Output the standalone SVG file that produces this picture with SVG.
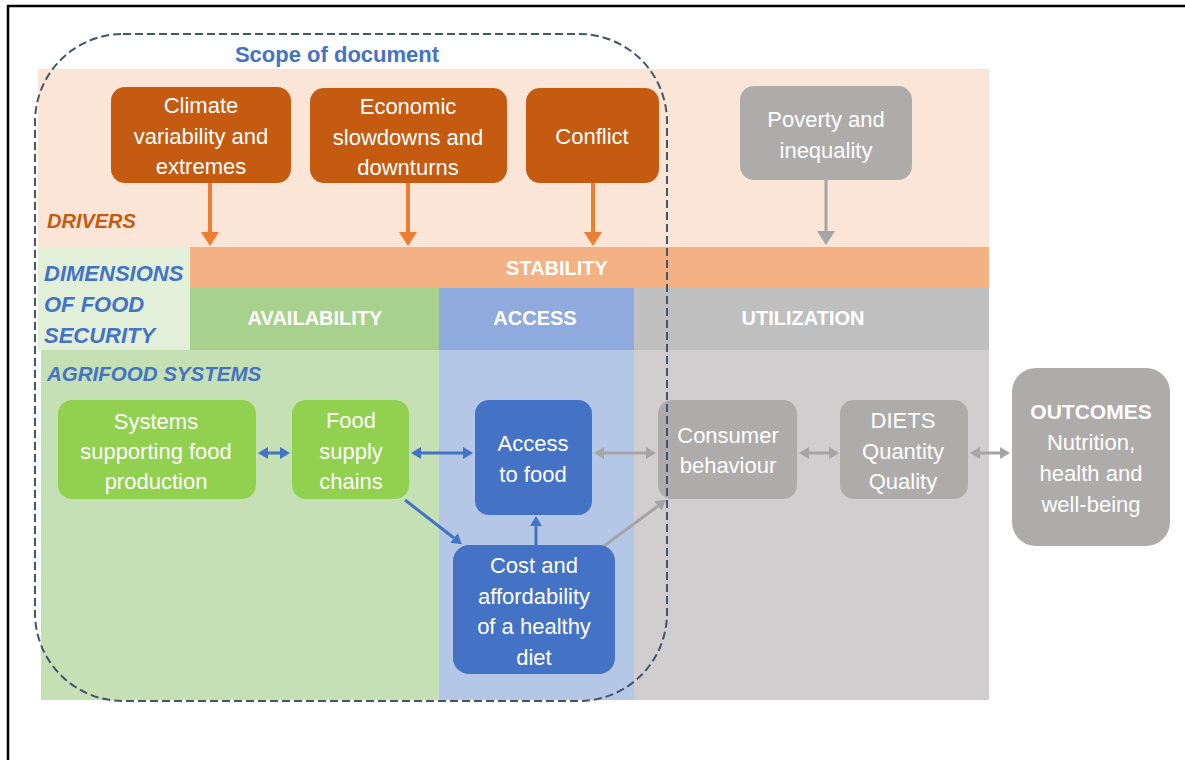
<svg xmlns="http://www.w3.org/2000/svg" width="1185" height="760" viewBox="0 0 1185 760">
<style>
.nt{font-family:"Liberation Sans",Arial,sans-serif;font-size:22px;fill:#fff;text-anchor:middle}
.hd{font-family:"Liberation Sans",Arial,sans-serif;font-size:20px;font-weight:bold;fill:#fff;text-anchor:middle}
.lb{font-family:"Liberation Sans",Arial,sans-serif;font-size:21px;font-weight:bold;font-style:italic;fill:#4472C4}
.or{fill:#C55A11}
.gr{fill:#AEABAB}
.gn{fill:#92D050}
.bl{fill:#4472C4}
.ao{stroke:#ED7D31;stroke-width:4;fill:none}
.ab{stroke:#4472C4;stroke-width:3;fill:none}
.ag{stroke:#A5A5A5;stroke-width:3;fill:none}
</style>
<defs>
<marker id="mo" markerUnits="userSpaceOnUse" markerWidth="14" markerHeight="18" refX="0" refY="9" orient="auto"><path d="M0,0 L14,9 L0,18 z" fill="#ED7D31"/></marker>
<marker id="mg" markerUnits="userSpaceOnUse" markerWidth="14" markerHeight="18" refX="0" refY="9" orient="auto"><path d="M0,0 L14,9 L0,18 z" fill="#A5A5A5"/></marker>
<marker id="mb" markerUnits="userSpaceOnUse" markerWidth="10" markerHeight="12" refX="0" refY="6" orient="auto-start-reverse"><path d="M0,0 L10,6 L0,12 z" fill="#4472C4"/></marker>
<marker id="ms" markerUnits="userSpaceOnUse" markerWidth="10" markerHeight="12" refX="0" refY="6" orient="auto-start-reverse"><path d="M0,0 L10,6 L0,12 z" fill="#A5A5A5"/></marker>
</defs>
<rect width="1185" height="760" fill="#fff"/>
<line x1="7" y1="6" x2="1185" y2="6" stroke="#000" stroke-width="2.5"/>
<line x1="8" y1="5" x2="8" y2="760" stroke="#000" stroke-width="2.5"/>

<g id="bands">
<rect x="38" y="69" width="951" height="178" fill="#FBE5D6"/>
<rect x="190" y="247" width="799" height="41" fill="#F4B183"/>
<rect x="38" y="247" width="152" height="103" fill="#E2F0D9"/>
<rect x="190" y="288" width="249" height="62" fill="#A9D18E"/>
<rect x="439" y="288" width="195" height="62" fill="#8FAADC"/>
<rect x="634" y="288" width="355" height="62" fill="#BFBFBF"/>
<rect x="41" y="350" width="398" height="350" fill="#C5E0B4"/>
<rect x="439" y="350" width="195" height="350" fill="#B4C7E7"/>
<rect x="634" y="350" width="355" height="350" fill="#D0CECE"/>
<text class="hd" x="557" y="275">STABILITY</text>
<text class="hd" x="315" y="325">AVAILABILITY</text>
<text class="hd" x="535" y="325">ACCESS</text>
<text class="hd" x="803" y="325">UTILIZATION</text>
<text class="lb" x="47" y="228" style="fill:#C55A11;font-size:20px">DRIVERS</text>
<text class="lb" x="44" y="281" style="font-size:22px">DIMENSIONS</text>
<text class="lb" x="44" y="312" style="font-size:22px">OF FOOD</text>
<text class="lb" x="44" y="343" style="font-size:22px">SECURITY</text>
<text class="lb" x="47" y="381" style="font-size:20.5px">AGRIFOOD SYSTEMS</text>
</g>

<g id="connectors">
<line class="ao" x1="210" y1="183" x2="210" y2="232" marker-end="url(#mo)"/>
<line class="ao" x1="408" y1="183" x2="408" y2="232" marker-end="url(#mo)"/>
<line class="ao" x1="593" y1="183" x2="593" y2="232" marker-end="url(#mo)"/>
<line class="ag" x1="826" y1="180" x2="826" y2="231" stroke-width="4" marker-end="url(#mg)"/>
<line class="ab" x1="268" y1="453" x2="280" y2="453" marker-start="url(#mb)" marker-end="url(#mb)"/>
<line class="ab" x1="421" y1="453" x2="463" y2="453" marker-start="url(#mb)" marker-end="url(#mb)"/>
<line class="ab" x1="405" y1="500" x2="454" y2="538" marker-end="url(#mb)"/>
<line class="ab" x1="536" y1="545" x2="536" y2="526" marker-end="url(#mb)"/>
<line class="ag" x1="604" y1="453" x2="646" y2="453" marker-start="url(#ms)" marker-end="url(#ms)"/>
<line class="ag" x1="809" y1="453" x2="829" y2="453" marker-start="url(#ms)" marker-end="url(#ms)"/>
<line class="ag" x1="980" y1="453" x2="1000" y2="453" marker-start="url(#ms)" marker-end="url(#ms)"/>
<line class="ag" x1="604" y1="546" x2="658" y2="506" marker-end="url(#ms)"/>
</g>

<g id="climate">
<rect class="or" x="111" y="87" width="180" height="96" rx="14"/>
<text class="nt" x="201" y="113">Climate</text>
<text class="nt" x="201" y="144">variability and</text>
<text class="nt" x="201" y="174">extremes</text>
</g>
<g id="economic">
<rect class="or" x="310" y="88" width="197" height="95" rx="14"/>
<text class="nt" x="408" y="114">Economic</text>
<text class="nt" x="408" y="145">slowdowns and</text>
<text class="nt" x="408" y="175">downturns</text>
</g>
<g id="conflict">
<rect class="or" x="526" y="88" width="133" height="95" rx="14"/>
<text class="nt" x="592" y="144">Conflict</text>
</g>
<g id="poverty">
<rect class="gr" x="740" y="86" width="172" height="94" rx="14"/>
<text class="nt" x="826" y="127">Poverty and</text>
<text class="nt" x="826" y="158">inequality</text>
</g>
<g id="systems">
<rect class="gn" x="58" y="400" width="198" height="99" rx="14"/>
<text class="nt" x="156" y="429">Systems</text>
<text class="nt" x="156" y="459">supporting food</text>
<text class="nt" x="156" y="489">production</text>
</g>
<g id="supply">
<rect class="gn" x="292" y="400" width="117" height="99" rx="14"/>
<text class="nt" x="351" y="428">Food</text>
<text class="nt" x="351" y="459">supply</text>
<text class="nt" x="351" y="489">chains</text>
</g>
<g id="access">
<rect class="bl" x="475" y="400" width="117" height="115" rx="14"/>
<text class="nt" x="533" y="451">Access</text>
<text class="nt" x="533" y="482">to food</text>
</g>
<g id="cost">
<rect class="bl" x="453" y="545" width="162" height="129" rx="16"/>
<text class="nt" x="534" y="573">Cost and</text>
<text class="nt" x="534" y="604">affordability</text>
<text class="nt" x="534" y="634">of a healthy</text>
<text class="nt" x="534" y="665">diet</text>
</g>
<g id="consumer">
<rect class="gr" x="658" y="400" width="139" height="99" rx="14"/>
<text class="nt" x="728" y="443">Consumer</text>
<text class="nt" x="728" y="473">behaviour</text>
</g>
<g id="diets">
<rect class="gr" x="840" y="400" width="128" height="99" rx="14"/>
<text class="nt" x="903" y="428">DIETS</text>
<text class="nt" x="903" y="459">Quantity</text>
<text class="nt" x="903" y="489">Quality</text>
</g>
<g id="outcomes">
<rect class="gr" x="1012" y="368" width="158" height="178" rx="24"/>
<text class="nt" x="1091" y="419" style="font-weight:bold;font-size:21px">OUTCOMES</text>
<text class="nt" x="1091" y="450">Nutrition,</text>
<text class="nt" x="1091" y="481">health and</text>
<text class="nt" x="1091" y="512">well-being</text>
</g>

<g id="scope">
<rect x="35" y="34" width="632" height="667" rx="88" fill="none" stroke="#44546A" stroke-width="2" stroke-dasharray="8 4"/>
<text x="337" y="62" style="font-family:'Liberation Sans',Arial,sans-serif;font-size:22px;font-weight:bold;fill:#4472C4;text-anchor:middle">Scope of document</text>
</g>
</svg>
